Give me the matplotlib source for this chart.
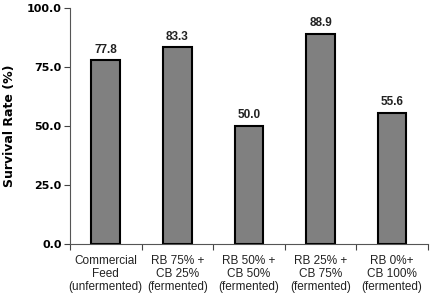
import matplotlib.pyplot as plt
import numpy as np

categories = ["Commercial\nFeed\n(unfermented)", "RB 75% +\nCB 25%\n(fermented)",
              "RB 50% +\nCB 50%\n(fermented)", "RB 25% +\nCB 75%\n(fermented)",
              "RB 0%+\nCB 100%\n(fermented)"]
survival = [77.8, 83.3, 50.0, 88.9, 55.6]
yticks = [0, 25, 50, 75, 100]

fig = plt.figure(figsize=(4.43, 2.96), dpi=100)
ax = fig.add_axes([0.158, 0.176, 0.808, 0.797])

x = np.arange(len(categories))
ax.bar(x, survival, width=0.4, color='#808080', edgecolor='black', linewidth=1.5)
for xi, v in zip(x, survival):
    ax.text(xi, v + 2, f"{v:.1f}", ha='center', va='bottom', fontsize=8.5, weight='bold',
            family='Liberation Sans', color='#222222')

ax.set_xlim(-0.5, len(categories) - 0.5)
ax.set_ylim(0, 100)
ax.set_yticks(yticks)
ax.set_yticklabels([f"{t:.1f}" for t in yticks], fontsize=8, weight='bold')
ax.set_xticks(np.arange(len(categories) + 1) - 0.5)
ax.set_xticklabels([])
ax.set_xticks(x, minor=True)
ax.set_xticklabels(categories, minor=True, fontsize=8.5, linespacing=1.1, color='#222222',
                   family=['Liberation Sans', 'DejaVu Sans'])
ax.tick_params(axis='x', which='minor', length=0, pad=8)
ax.tick_params(axis='x', which='major', length=4, color='#444444')
ax.tick_params(axis='y', length=4, color='#444444', pad=2)
ax.set_ylabel("Survival Rate (%)", fontsize=9, weight='bold', labelpad=8)

ax.spines['top'].set_visible(False)
ax.spines['right'].set_visible(False)
ax.spines['left'].set_color('#555555')
ax.spines['bottom'].set_color('#555555')

fig.savefig('out.png', dpi=100)
